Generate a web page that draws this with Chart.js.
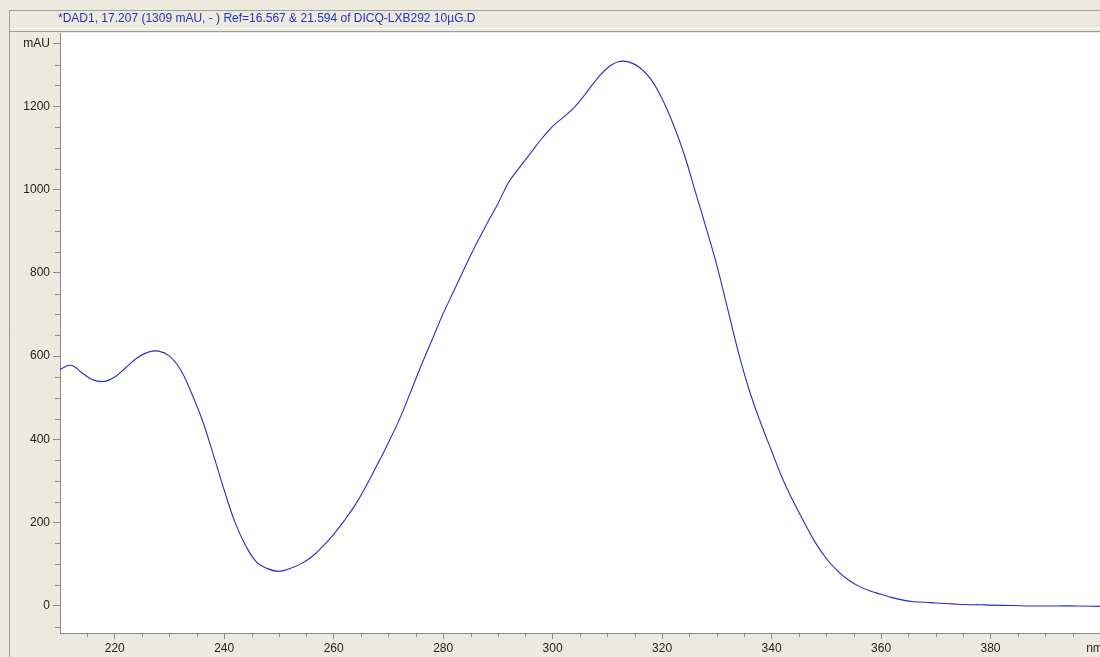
<!DOCTYPE html>
<html>
<head>
<meta charset="utf-8">
<script src="https://cdn.jsdelivr.net/npm/chart.js@4.4.1/dist/chart.umd.min.js"></script>
<style>
  html, body { margin: 0; padding: 0; background: #ECE9DF; }
  #wrap { width: 1100px; height: 657px; }
</style>
</head>
<body>
<div id="wrap"><canvas id="espectro" width="1100" height="657"></canvas></div>
<script>
// titulo del espectro (barra de arriba)
const titulo = "*DAD1, 17.207 (1309 mAU, - ) Ref=16.567 & 21.594 of DICQ-LXB292 10µG.D";

// longitud de onda (nm)
const longitudes = [
  210, 212, 214, 216, 218, 220, 222, 224, 226, 228,
  230, 232, 234, 236, 238, 240, 242, 244, 246, 248,
  250, 252, 254, 256, 258, 260, 262, 264, 266, 268,
  270, 272, 274, 276, 278, 280, 282, 284, 286, 288,
  290, 292, 294, 296, 298, 300, 302, 304, 306, 308,
  310, 312, 314, 316, 318, 320, 322, 324, 326, 328,
  330, 332, 334, 336, 338, 340, 342, 344, 346, 348,
  350, 352, 354, 356, 358, 360, 362, 364, 366, 368,
  370, 372, 374, 376, 378, 380, 384, 388, 392, 396, 400
];
// absorbancia (mAU)
const absorbancias = [
  568, 578, 560, 543, 539, 550, 572, 595, 609, 612,
  600, 568, 512, 446, 364, 278, 200, 143, 104, 89,
  83, 90, 101, 118, 143, 172, 206, 244, 290, 340,
  392, 448, 512, 578, 640, 702, 758, 814, 868, 918,
  966, 1018, 1054, 1088, 1122, 1152, 1174, 1198, 1230, 1264,
  1292, 1307, 1306, 1292, 1264, 1218, 1158, 1086, 998, 910,
  818, 712, 606, 515, 440, 372, 306, 250, 200, 152,
  114, 85, 63, 47, 36, 28, 20, 14, 10, 9,
  7, 6, 4, 3, 3, 2, 1, 0, 0, 0, -1
];

// marcas con etiqueta
const ticksX = [220, 240, 260, 280, 300, 320, 340, 360, 380];
const ticksY = [0, 200, 400, 600, 800, 1000, 1200];
const unidadX = "nm";
const unidadY = "mAU";
const posUnidadX = 399;
const posUnidadY = 1350;

const beige = "#ECE9DF";
const grisEje = "#8C8A84";
const fuente = { family: "'Liberation Sans', Arial, sans-serif", size: 12 };

// fondo, barra de titulo y area blanca
const fondoPlugin = {
  id: "fondo",
  beforeDraw(chart) {
    const { ctx, chartArea } = chart;
    ctx.save();
    ctx.fillStyle = beige;
    ctx.fillRect(0, 0, chart.width, chart.height);
    ctx.fillStyle = "#ffffff";
    ctx.fillRect(chartArea.left, chartArea.top, chartArea.right - chartArea.left, chartArea.bottom - chartArea.top);
    ctx.lineWidth = 1;
    ctx.strokeStyle = "#A09D94";
    ctx.beginPath();
    ctx.moveTo(9, 10.5); ctx.lineTo(chart.width, 10.5);
    ctx.moveTo(9.5, 10); ctx.lineTo(9.5, chart.height);
    ctx.moveTo(10, 31.5); ctx.lineTo(chart.width, 31.5);
    ctx.stroke();
    ctx.strokeStyle = "#ffffff";
    ctx.beginPath();
    ctx.moveTo(10, 28.5); ctx.lineTo(chart.width, 28.5);
    ctx.stroke();
    ctx.fillStyle = "#2434B8";
    ctx.font = "12px 'Liberation Sans', Arial, sans-serif";
    ctx.textBaseline = "middle";
    ctx.textAlign = "left";
    ctx.fillText(titulo, 58, 19);
    ctx.restore();
  },
};

// marcas menores de los ejes
const marcasMenores = {
  id: "marcasMenores",
  afterDraw(chart) {
    const { ctx, scales, chartArea } = chart;
    ctx.save();
    ctx.strokeStyle = grisEje;
    ctx.lineWidth = 1;
    ctx.beginPath();
    for (let v = -50; v <= 1350; v += 50) {
      if (ticksY.includes(v) || v === posUnidadY) continue;
      const y = Math.round(scales.y.getPixelForValue(v)) + 0.5;
      ctx.moveTo(chartArea.left - 5, y);
      ctx.lineTo(chartArea.left, y);
    }
    for (let v = 215; v <= 400; v += 5) {
      if (ticksX.includes(v)) continue;
      const x = Math.round(scales.x.getPixelForValue(v)) + 0.5;
      ctx.moveTo(x, chartArea.bottom);
      ctx.lineTo(x, chartArea.bottom + 4);
    }
    ctx.stroke();
    ctx.restore();
  },
};

const data = {
  datasets: [
    {
      label: "DAD1",
      data: longitudes.map((l, i) => ({ x: l, y: absorbancias[i] })),
      borderColor: "#2A2ACB",
      borderWidth: 1.1,
      pointRadius: 0,
      fill: false,
      tension: 0.4,
    },
  ],
};

const config = {
  type: "line",
  data: data,
  options: {
    responsive: false,
    animation: false,
    devicePixelRatio: 1,
    layout: { padding: { top: 33, left: 0, right: 0, bottom: 0 } },
    plugins: {
      legend: { display: false },
      title: { display: false },
      tooltip: { enabled: false },
    },
    scales: {
      x: {
        type: "linear",
        min: 210,
        max: 400,
        afterBuildTicks: (scale) => {
          scale.ticks = ticksX.map((v) => ({ value: v })).concat([{ value: posUnidadX }]);
        },
        afterFit: (scale) => {
          scale.height = 24;
          scale.paddingLeft = 0;
          scale.paddingRight = 0;
        },
        grid: {
          drawOnChartArea: false,
          tickLength: 6,
          tickColor: (ctx) => (ctx.tick && ctx.tick.value === posUnidadX ? "rgba(0,0,0,0)" : grisEje),
        },
        border: { color: grisEje },
        ticks: {
          autoSkip: false,
          maxRotation: 0,
          padding: 2,
          color: "#222222",
          font: fuente,
          callback: (v) => (v === posUnidadX ? unidadX : v),
        },
      },
      y: {
        type: "linear",
        min: -65,
        max: 1376,
        afterBuildTicks: (scale) => {
          scale.ticks = ticksY.map((v) => ({ value: v })).concat([{ value: posUnidadY }]);
        },
        afterFit: (scale) => {
          scale.width = 60;
          scale.paddingTop = 0;
          scale.paddingBottom = 0;
        },
        grid: { drawOnChartArea: false, tickLength: 7, color: grisEje },
        border: { color: grisEje },
        ticks: {
          autoSkip: false,
          padding: 3,
          color: "#222222",
          font: fuente,
          callback: (v) => (v === posUnidadY ? unidadY : v),
        },
      },
    },
  },
  plugins: [fondoPlugin, marcasMenores],
};

const myChartElement = document.getElementById("espectro");
const myChart = new Chart(myChartElement, config);
</script>
</body>
</html>
